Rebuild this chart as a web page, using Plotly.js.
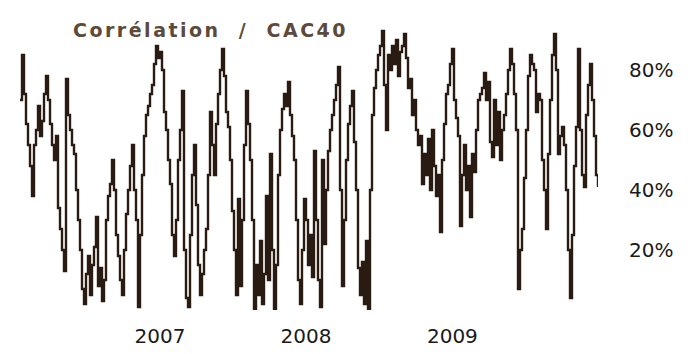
<!DOCTYPE html>
<html>
<head>
<meta charset="utf-8">
<script src="https://cdn.plot.ly/plotly-3.0.1.min.js"></script>
<style>
html,body{margin:0;padding:0;background:#fff;}
#chart{width:690px;height:354px;}
.gtitle{letter-spacing:2.5px;}
</style>
</head>
<body>
<div id="chart"></div>
<script>
// Correlation series (%), one reading every 5 days starting 2006-01-16
const startDate = '2006-01-16';
const stepDays = 5;
const correlation = [
  70,85,72,62,55,48,38,55,60,68,
  58,63,72,78,70,62,55,50,58,34,
  27,20,13,77,65,60,55,52,40,30,
  20,7,2,12,18,5,15,21,31,8,
  14,3,10,30,38,42,50,40,25,18,
  10,5,20,32,40,48,55,40,30,1,
  25,45,58,65,68,72,75,82,88,84,
  86,80,66,60,50,42,25,18,30,50,
  60,73,20,4,1,25,45,55,35,15,
  5,12,20,27,45,66,55,45,62,72,
  80,87,78,66,61,50,33,20,5,37,
  8,30,55,73,62,50,30,0,15,5,
  23,2,12,38,10,52,20,0,15,45,
  60,67,72,68,76,65,58,50,30,10,
  2,20,37,30,15,25,11,53,30,10,
  1,50,22,40,53,60,65,70,75,81,
  40,8,30,50,62,68,73,56,40,14,
  5,16,2,23,0,40,65,74,80,85,
  88,93,75,60,85,80,88,82,90,78,
  86,88,92,84,74,77,65,70,60,55,
  58,42,52,45,57,40,60,48,38,45,
  26,50,62,72,75,82,87,70,64,58,
  28,45,55,40,48,31,52,46,60,70,
  72,74,79,70,76,56,51,70,55,66,
  50,60,65,72,80,87,82,72,60,7,
  20,27,44,60,78,85,82,80,66,72,
  70,50,40,27,52,70,85,92,80,52,
  58,61,55,40,20,4,25,48,61,87,
  60,45,41,65,75,82,70,58,45,41
];
const yTickVals = [20,40,60,80];
const yTickText = ['20%','40%','60%','80%'];
const xTickVals = ['2007-01-01','2008-01-01','2009-01-01'];
const xTickText = ['2007','2008','2009'];
const titleText = 'Corrélation  /  CAC40';

const t0 = new Date(startDate + 'T00:00:00Z').getTime();
const dates = correlation.map((_, i) => new Date(t0 + i * stepDays * 86400000).toISOString().slice(0,10));

const trace = {
  x: dates,
  y: correlation,
  type: 'scatter',
  mode: 'lines',
  line: {color: '#2a1b12', width: 2.4, shape: 'hv'},
  hoverinfo: 'skip'
};

const layout = {
  width: 690,
  height: 354,
  margin: {l: 20, r: 92, t: 25, b: 44},
  paper_bgcolor: '#ffffff',
  plot_bgcolor: '#ffffff',
  showlegend: false,
  title: {
    text: '<b>' + titleText + '</b>',
    font: {family: 'DejaVu Sans', size: 19, color: '#5c4a3b'},
    x: 73/690, xref: 'container', xanchor: 'left',
    y: 1 - 30/354, yref: 'container', yanchor: 'middle'
  },
  xaxis: {
    type: 'date',
    range: [dates[0], dates[dates.length-1]],
    tickmode: 'array',
    tickvals: xTickVals,
    ticktext: xTickText,
    showgrid: false, zeroline: false, showline: false,
    ticks: '',
    tickfont: {family: 'DejaVu Sans', size: 20, color: '#1a1a1a'},
    ticklabelstandoff: 12
  },
  yaxis: {
    range: [0, 95],
    side: 'right',
    tickmode: 'array',
    tickvals: yTickVals,
    ticktext: yTickText,
    showgrid: false, zeroline: false, showline: false,
    ticks: '',
    tickfont: {family: 'DejaVu Sans', size: 20, color: '#1a1a1a'},
    ticklabelstandoff: 30
  }
};

Plotly.newPlot('chart', [trace], layout, {staticPlot: true, displayModeBar: false});
</script>
</body>
</html>
